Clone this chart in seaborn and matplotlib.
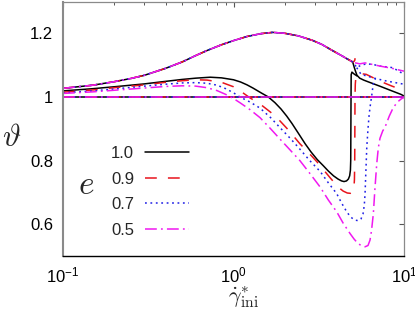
import numpy as np
import pandas as pd
import matplotlib
matplotlib.use("Agg")
import matplotlib.pyplot as plt
import seaborn as sns
from matplotlib.lines import Line2D
from matplotlib.ticker import FixedLocator, FixedFormatter, LogLocator, NullFormatter

# ---------------- data ----------------
series_labels = ["1.0", "0.9", "0.7", "0.5"]
series_colors = ["black", "#e8141c", "#1f1fe6", "#f018f0"]

flat_x = [0.1, 10.0]
flat_y = [1.0, 1.0]

upper_x = [0.1, 0.15, 0.2, 0.25, 0.3, 0.4, 0.5, 0.6, 0.7, 0.85, 1.0, 1.2, 1.45, 1.7, 2.0,
           2.4, 2.9, 3.3, 3.8, 4.3, 4.7, 5.0]
upper_y = [1.027, 1.037, 1.048, 1.058, 1.068, 1.090, 1.110, 1.130, 1.146, 1.164, 1.177, 1.190,
           1.199, 1.203, 1.200, 1.192, 1.178, 1.165, 1.146, 1.130, 1.118, 1.110]

# e = 1.0
k_tail_x = [5.02, 5.1, 5.2, 5.3, 5.5, 5.8, 6.2, 7.2, 8.4, 9.6, 10.0]
k_tail_y = [1.107, 1.094, 1.080, 1.068, 1.059, 1.053, 1.047, 1.034, 1.020, 1.008, 1.003]
k_low_x = [0.1, 0.15, 0.2, 0.3, 0.4, 0.5, 0.6, 0.73, 0.85, 1.0, 1.1, 1.2, 1.3, 1.45, 1.6, 1.75,
           1.9, 2.05, 2.2, 2.4, 2.63, 2.85, 3.1, 3.36, 3.6, 3.86, 4.1, 4.3, 4.45, 4.6, 4.72,
           4.8, 4.85, 4.87, 4.88, 4.89, 4.9, 4.95, 5.1, 5.3]
k_low_y = [1.019, 1.026, 1.032, 1.041, 1.049, 1.055, 1.059, 1.062, 1.060, 1.054, 1.047, 1.038,
           1.028, 1.013, 1.0, 0.982, 0.962, 0.94, 0.917, 0.886, 0.853, 0.827, 0.803, 0.784,
           0.767, 0.752, 0.742, 0.736, 0.734, 0.736, 0.742, 0.752, 0.77, 0.80, 0.9, 1.0, 1.07,
           1.078, 1.072, 1.066]

# e = 0.9
r_tail_x = [5.1, 5.15, 5.17]
r_tail_y = [1.112, 1.116, 1.125]
r_low_x = [0.1, 0.15, 0.2, 0.3, 0.4, 0.5, 0.6, 0.7, 0.85, 1.0, 1.1, 1.17, 1.25, 1.43, 1.65,
           1.87, 2.1, 2.45, 2.63, 2.9, 3.1, 3.36, 3.7, 4.12, 4.4, 4.65, 4.85, 5.0, 5.08, 5.12,
           5.14, 5.15, 5.16, 5.18, 5.22, 5.35, 5.6, 6.0, 6.5, 7.2, 8.5, 10.0]
r_low_y = [1.015, 1.022, 1.029, 1.038, 1.046, 1.051, 1.054, 1.053, 1.046, 1.032, 1.018, 1.008,
           0.997, 0.978, 0.952, 0.925, 0.896, 0.853, 0.836, 0.812, 0.795, 0.772, 0.745, 0.716,
           0.704, 0.698, 0.697, 0.70, 0.71, 0.74, 0.80, 0.9, 1.0, 1.04, 1.062, 1.07, 1.073,
           1.071, 1.062, 1.05, 1.034, 1.02]

# e = 0.7
b_tail_x = [5.1, 5.28, 5.6, 6.04, 6.6, 7.23, 8.6, 10.0]
b_tail_y = [1.106, 1.092, 1.1, 1.104, 1.102, 1.097, 1.092, 1.071]
b_fork_x = [5.28, 5.6, 6.8, 7.9, 10.0]
b_fork_y = [1.092, 1.071, 1.058, 1.05, 1.04]
b_low_x = [0.1, 0.15, 0.2, 0.3, 0.4, 0.5, 0.6, 0.7, 0.8, 0.9, 1.0, 1.09, 1.25, 1.43, 1.65,
           1.87, 2.15, 2.45, 2.8, 3.22, 3.6, 4.03, 4.3, 4.59, 4.85, 5.14, 5.4, 5.6, 5.75, 5.85,
           5.91, 5.97, 6.05, 6.15, 6.25, 6.35, 6.45, 6.6, 6.8]
b_low_y = [1.013, 1.019, 1.025, 1.034, 1.040, 1.044, 1.045, 1.043, 1.037, 1.026, 1.013, 1.0,
           0.984, 0.965, 0.935, 0.904, 0.87, 0.836, 0.80, 0.766, 0.73, 0.696, 0.667, 0.641,
           0.623, 0.613, 0.611, 0.617, 0.632, 0.66, 0.696, 0.76, 0.842, 0.9, 0.946, 0.975,
           1.0, 1.04, 1.058]

# e = 0.5
m_tail_x = [5.1, 5.5, 5.91, 7.23, 8.5, 10.0]
m_tail_y = [1.108, 1.104, 1.107, 1.097, 1.09, 1.081]
m_low_x = [0.1, 0.15, 0.2, 0.3, 0.4, 0.5, 0.6, 0.7, 0.8, 0.9, 1.0, 1.09, 1.25, 1.43, 1.65,
           1.87, 2.15, 2.45, 2.8, 3.22, 3.6, 4.03, 4.4, 4.82, 5.1, 5.36, 5.6, 5.91, 6.15, 6.32,
           6.45, 6.61, 6.75, 6.92, 7.07, 7.23, 7.5, 7.74, 8.2, 8.66, 9.2, 9.7, 10.0]
m_low_y = [1.011, 1.016, 1.021, 1.028, 1.033, 1.035, 1.034, 1.029, 1.02, 1.008, 0.995, 0.982,
           0.96, 0.935, 0.90, 0.868, 0.833, 0.80, 0.76, 0.717, 0.676, 0.639, 0.603, 0.571,
           0.553, 0.54, 0.533, 0.529, 0.533, 0.55, 0.58, 0.633, 0.71, 0.79, 0.84, 0.87, 0.893,
           0.905, 0.94, 0.967, 0.985, 0.995, 0.998]

ytick_vals = [0.6, 0.8, 1.0, 1.2]
ytick_labels = ["0.6", "0.8", "1", "1.2"]

# ---------------- build table ----------------
branches = {
    "1.0": [(flat_x, flat_y), (upper_x + k_tail_x, upper_y + k_tail_y), (k_low_x, k_low_y)],
    "0.9": [(flat_x, flat_y), (upper_x + r_tail_x, upper_y + r_tail_y), (r_low_x, r_low_y)],
    "0.7": [(flat_x, flat_y), (upper_x + b_tail_x, upper_y + b_tail_y), (b_fork_x, b_fork_y),
            (b_low_x, b_low_y)],
    "0.5": [(flat_x, flat_y), (upper_x + m_tail_x, upper_y + m_tail_y), (m_low_x, m_low_y)],
}
rows = []
for lab in series_labels:
    for bi, (bx, by) in enumerate(branches[lab]):
        for i, (xv, yv) in enumerate(zip(bx, by)):
            rows.append({"e": lab, "branch": bi, "order": i, "x": xv, "y": yv})
df = pd.DataFrame(rows)

# ---------------- style ----------------
sns.set_theme(style="white")
plt.rcParams["font.family"] = ["Liberation Sans", "DejaVu Sans"]
plt.rcParams["mathtext.fontset"] = "cm"
plt.rcParams["lines.scale_dashes"] = False

styles = {
    "1.0": "-",
    "0.9": (0, (8.5, 8.0)),
    "0.7": (0, (1.3, 2.6)),
    "0.5": (0, (8.5, 3.0, 1.3, 3.0)),
}

fig = plt.figure(figsize=(4.15, 3.11), dpi=100)
ax = fig.add_axes([63 / 415, 1 - 256 / 311, (404 - 63) / 415, (256 - 1.5) / 311])

for lab, col in zip(series_labels, series_colors):
    sub = df[df["e"] == lab]
    sns.lineplot(data=sub, x="x", y="y", units="branch", estimator=None, sort=False,
                 color=col, linestyle=styles[lab], lw=1.1, ax=ax)

ax.set_xscale("log")
ax.set_xlim(0.1, 10)
ax.set_ylim(0.5, 1.3)

ax.yaxis.set_major_locator(FixedLocator(ytick_vals))
ax.yaxis.set_major_formatter(FixedFormatter(ytick_labels))
ax.xaxis.set_major_locator(LogLocator(base=10, numticks=10))
ax.xaxis.set_minor_locator(LogLocator(base=10, subs=np.arange(2, 10), numticks=20))
ax.xaxis.set_minor_formatter(NullFormatter())

ax.tick_params(which="both", direction="in", top=True, right=True, colors="#555555",
               labelcolor="black", labelsize=12, pad=7)
ax.tick_params(which="major", length=3.3, width=0.8)
ax.tick_params(which="minor", length=2.0, width=0.7)

for side, s in ax.spines.items():
    s.set_visible(True)
    s.set_color("#8a8a8a")
    s.set_linewidth(0.9)
ax.spines["left"].set_linewidth(1.5)
ax.spines["bottom"].set_color("black")
ax.spines["bottom"].set_linewidth(1.0)

ax.set_xlabel("")
ax.set_ylabel("")
fig.text(11.5 / 415, 1 - 138 / 311, r"$\vartheta$", fontsize=22, ha="center", va="center")
fig.text(244 / 415, 1 - 297 / 311, r"$\dot{\gamma}^{*}_{\rm ini}$", fontsize=16,
         ha="center", va="center")

handles = [Line2D([], [], color=c, linestyle=styles[l], lw=1.1)
           for l, c in zip(series_labels, series_colors)]
ax.legend(handles, series_labels, markerfirst=False, frameon=False, loc="upper left",
          bbox_to_anchor=(111 / 415, 1 - 146 / 311), bbox_transform=fig.transFigure,
          handlelength=2.65, handletextpad=0.65, labelspacing=0.64, borderpad=0,
          borderaxespad=0, fontsize=12)
fig.text(86 / 415, 1 - 186 / 311, r"$e$", fontsize=24, ha="center", va="center")

fig.savefig("out.png", dpi=100)
